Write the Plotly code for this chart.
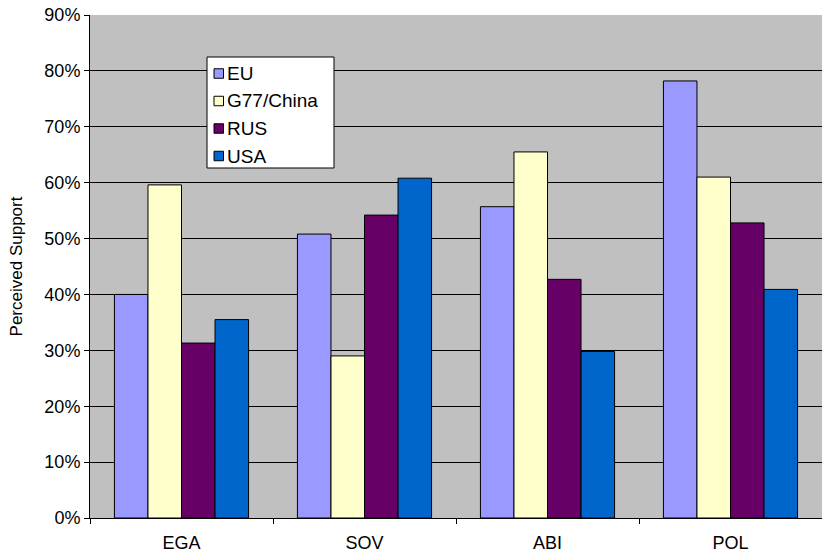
import plotly.graph_objects as go

categories = ["EGA", "SOV", "ABI", "POL"]
series_names = ["EU", "G77/China", "RUS", "USA"]
eu = [40.0, 50.8, 55.7, 78.2]
g77 = [59.6, 29.0, 65.5, 61.0]
rus = [31.3, 54.2, 42.7, 52.8]
usa = [35.5, 60.8, 29.8, 40.9]
colors = ["#9999FF", "#FFFFCC", "#660066", "#0066CC"]

FONT = "Liberation Sans, Arial, sans-serif"

W, H = 822, 556
ML, MR, MT, MB = 90, 0, 15, 38
PW, PH = W - ML - MR, H - MT - MB


def px(xp):
    return (xp - ML) / PW


def py(yp):
    return (H - MB - yp) / PH


fig = go.Figure()
for name, vals, col in zip(series_names, [eu, g77, rus, usa], colors):
    fig.add_trace(go.Bar(
        x=categories, y=vals, name=name, showlegend=False,
        marker=dict(color=col, line=dict(color="#000000", width=1)),
    ))

# custom legend box (matches the reference's compact Excel legend)
shapes = [dict(type="rect", xref="paper", yref="paper",
               x0=px(207), x1=px(334), y0=py(168), y1=py(57),
               fillcolor="white", line=dict(color="#000000", width=1), layer="above")]
annotations = []
item_y = [73.5, 101, 128.5, 156]
for name, col, yc in zip(series_names, colors, item_y):
    shapes.append(dict(type="rect", xref="paper", yref="paper",
                       x0=px(214), x1=px(223.5), y0=py(yc + 4.75), y1=py(yc - 4.75),
                       fillcolor=col, line=dict(color="#000000", width=1), layer="above"))
    annotations.append(dict(xref="paper", yref="paper", x=px(225), y=py(yc),
                            xanchor="left", yanchor="middle", showarrow=False,
                            text=name, font=dict(size=19, family=FONT, color="#000000")))

fig.update_layout(
    width=W, height=H,
    margin=dict(l=ML, r=MR, t=MT, b=MB),
    paper_bgcolor="white",
    plot_bgcolor="#C0C0C0",
    barmode="group",
    bargap=0.267,
    bargroupgap=0,
    showlegend=False,
    font=dict(family=FONT, size=18, color="#000000"),
    shapes=shapes,
    annotations=annotations,
    xaxis=dict(
        showline=True, linecolor="#000000", linewidth=1,
        ticks="outside", tickson="boundaries", ticklen=5, tickcolor="#000000",
        showgrid=False, tickfont=dict(size=18), ticklabelstandoff=8,
    ),
    yaxis=dict(
        range=[0, 90], dtick=10, ticksuffix="%",
        showline=True, linecolor="#000000", linewidth=1,
        ticks="outside", ticklen=5, tickcolor="#000000",
        showgrid=True, gridcolor="#000000", gridwidth=1,
        zeroline=False, tickfont=dict(size=18),
        title=dict(text="Perceived Support", font=dict(size=17), standoff=17),
    ),
)

fig.write_html("out.html")
